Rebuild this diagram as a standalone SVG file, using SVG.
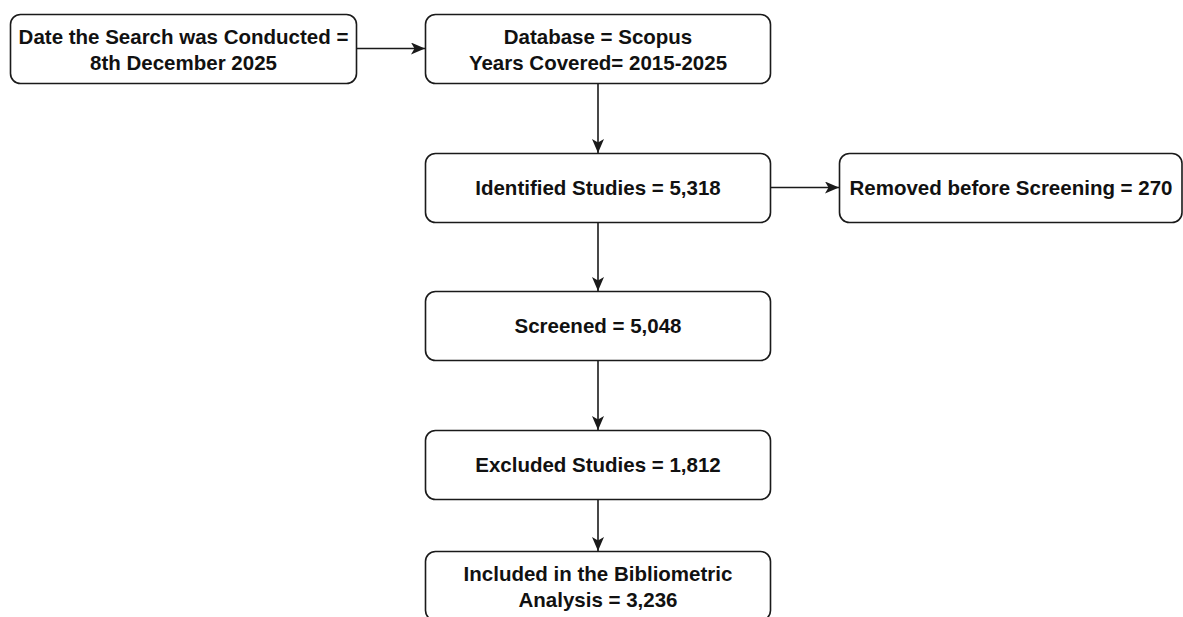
<svg xmlns="http://www.w3.org/2000/svg" width="1183" height="617" viewBox="0 0 1183 617">
<style>
.box{fill:#ffffff;stroke:#1a1a1a;stroke-width:1.6}
.t{font-family:"Liberation Sans",Arial,sans-serif;font-weight:bold;font-size:20.5px;fill:#111111;text-anchor:middle}
.c{stroke:#1a1a1a;stroke-width:1.6;fill:none}
</style>
<defs>
<marker id="ah" viewBox="0 0 14 12" refX="14" refY="6" markerWidth="14" markerHeight="12" markerUnits="userSpaceOnUse" orient="auto">
<path d="M0,0 L14,6 L0,12 L3.5,6 Z" fill="#1a1a1a"/>
</marker>
</defs>
<rect x="0" y="0" width="1183" height="617" fill="#ffffff"/>
<g id="connectors">
<line class="c" x1="356.5" y1="48.5" x2="425" y2="48.5" marker-end="url(#ah)"/>
<line class="c" x1="598" y1="83.5" x2="598" y2="153" marker-end="url(#ah)"/>
<line class="c" x1="771" y1="187.5" x2="839" y2="187.5" marker-end="url(#ah)"/>
<line class="c" x1="598" y1="222.5" x2="598" y2="291" marker-end="url(#ah)"/>
<line class="c" x1="598" y1="360.5" x2="598" y2="430" marker-end="url(#ah)"/>
<line class="c" x1="598" y1="499.5" x2="598" y2="551" marker-end="url(#ah)"/>
</g>
<g id="date">
<rect class="box" x="10.5" y="14.5" width="346" height="69" rx="10"/>
<text class="t" x="183.5" y="44.3">Date the Search was Conducted =</text>
<text class="t" x="183.5" y="70.3">8th December 2025</text>
</g>
<g id="database">
<rect class="box" x="425.5" y="14.5" width="345" height="69" rx="10"/>
<text class="t" x="598" y="44.3">Database = Scopus</text>
<text class="t" x="598" y="70.3">Years Covered= 2015-2025</text>
</g>
<g id="identified">
<rect class="box" x="425.5" y="153.5" width="345" height="69" rx="10"/>
<text class="t" x="598" y="194.8">Identified Studies = 5,318</text>
</g>
<g id="removed">
<rect class="box" x="839.5" y="153.5" width="342.5" height="69" rx="10"/>
<text class="t" x="1011" y="194.8">Removed before Screening = 270</text>
</g>
<g id="screened">
<rect class="box" x="425.5" y="291.5" width="345" height="69" rx="10"/>
<text class="t" x="598" y="332.8">Screened = 5,048</text>
</g>
<g id="excluded">
<rect class="box" x="425.5" y="430.5" width="345" height="69" rx="10"/>
<text class="t" x="598" y="471.8">Excluded Studies = 1,812</text>
</g>
<g id="included">
<rect class="box" x="425.5" y="551.5" width="345" height="69" rx="10"/>
<text class="t" x="598" y="581.3">Included in the Bibliometric</text>
<text class="t" x="598" y="607.3">Analysis = 3,236</text>
</g>
</svg>
